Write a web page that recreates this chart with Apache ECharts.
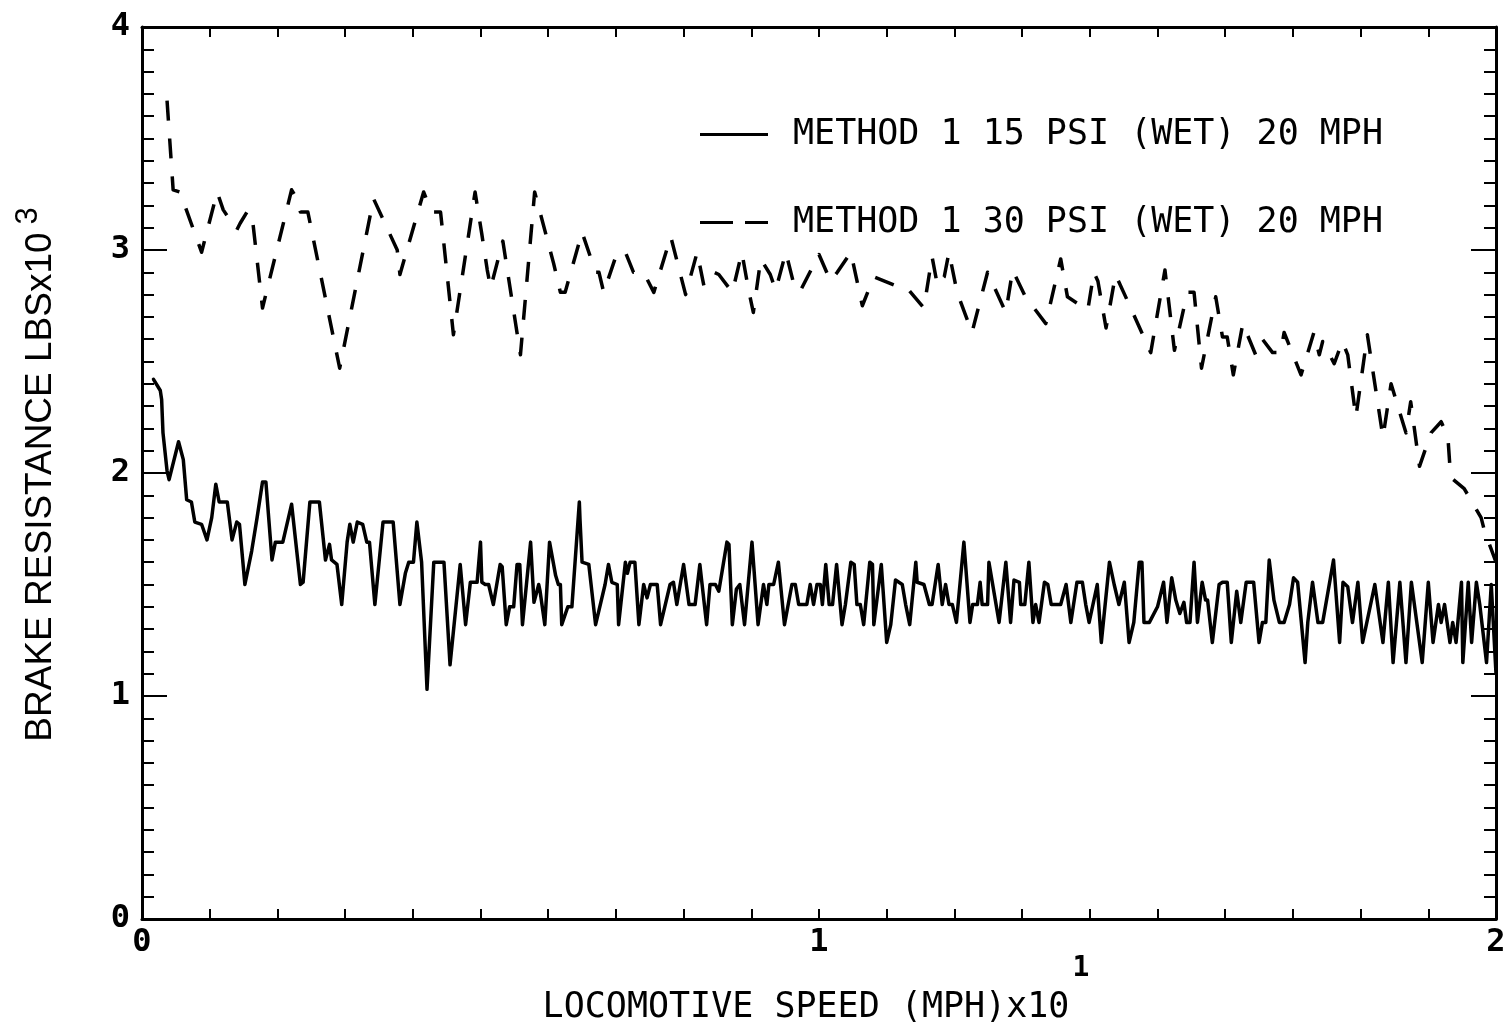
<!DOCTYPE html>
<html><head><meta charset="utf-8">
<script src="https://cdn.jsdelivr.net/npm/echarts@6/dist/echarts.min.js"></script>
<style>html,body{margin:0;padding:0;background:#fff}#c{width:1509px;height:1027px}</style>
</head><body><div id="c"></div>
<script>
// ---- DATA ----
const SERIES_NAMES = ['METHOD 1 15 PSI (WET) 20 MPH', 'METHOD 1 30 PSI (WET) 20 MPH'];
const X_TITLE = 'LOCOMOTIVE SPEED (MPH)x10';
const X_TITLE_EXP = '1';
const Y_TITLE = 'BRAKE RESISTANCE LBSx10';
const Y_TITLE_EXP = '3';

// 15 PSI (solid)
const S1_X = [0.017,0.027,0.029,0.031,0.037,0.040,0.054,0.061,0.066,0.073,0.078,0.088,0.096,0.103,0.109,0.114,0.126,0.133,0.140,0.144,0.152,0.162,0.170,0.178,0.183,0.192,0.197,0.208,0.221,0.234,0.238,0.248,0.262,0.271,0.277,0.280,0.288,0.295,0.303,0.307,0.312,0.318,0.326,0.332,0.336,0.344,0.356,0.371,0.381,0.389,0.394,0.401,0.406,0.413,0.421,0.431,0.446,0.455,0.470,0.478,0.485,0.495,0.500,
0.502,0.507,0.512,0.519,0.529,0.532,0.538,0.543,0.549,0.554,0.558,0.562,0.574,0.579,0.586,0.588,0.595,0.602,0.611,0.615,0.618,0.620,0.629,0.635,0.646,0.647,0.650,0.660,0.670,0.684,0.689,0.694,0.702,0.704,0.714,0.717,0.721,0.728,0.734,0.741,0.746,0.751,0.761,0.766,0.780,0.785,0.790,0.800,0.808,0.817,0.824,0.834,0.839,0.847,0.852,0.864,0.867,0.872,0.878,0.883,0.890,0.901,0.910,0.918,0.923,0.926,0.933,0.940,0.949,0.960,0.965,0.970,0.982,0.987,0.992,0.997,1.002,
1.005,1.010,1.015,1.020,1.026,1.034,1.039,1.047,1.052,1.056,1.061,1.066,1.075,1.079,1.081,1.092,1.100,1.106,1.113,1.118,1.123,1.128,1.134,1.143,1.145,1.155,1.163,1.167,1.176,1.182,1.187,1.192,1.197,1.203,1.214,1.223,1.227,1.234,1.238,1.241,1.249,1.251,1.266,1.276,1.283,1.288,1.296,1.298,1.304,1.310,1.316,1.320,1.325,1.333,1.338,1.343,1.357,1.365,1.372,1.381,1.389,1.394,1.399,1.411,1.417,1.429,1.436,1.443,1.451,1.458,1.465,1.473,1.477,1.480,1.488,
1.500,1.509,1.514,1.521,1.527,1.533,1.539,1.543,1.548,1.554,1.559,1.566,1.571,1.574,1.581,1.591,1.596,1.603,1.609,1.617,1.623,1.631,1.642,1.650,1.655,1.660,1.665,1.672,1.680,1.687,1.695,1.701,1.707,1.718,1.722,1.729,1.737,1.744,1.760,1.769,1.774,1.781,1.788,1.796,1.803,1.821,1.833,1.841,1.848,1.858,1.867,1.875,1.891,1.900,1.907,1.915,1.919,1.924,1.932,1.936,1.941,1.949,1.951,1.959,1.964,1.971,1.976,1.986,1.993,2.000];
const S1_Y = [2.42,2.37,2.33,2.18,2.01,1.97,2.14,2.06,1.88,1.87,1.78,1.77,1.70,1.80,1.95,1.87,1.87,1.70,1.78,1.77,1.50,1.65,1.80,1.96,1.96,1.61,1.69,1.69,1.86,1.50,1.51,1.87,1.87,1.61,1.68,1.61,1.59,1.41,1.69,1.77,1.69,1.78,1.77,1.69,1.69,1.41,1.78,1.78,1.41,1.55,1.60,1.60,1.78,1.60,1.03,1.60,1.60,1.14,1.59,1.32,1.51,1.51,1.69,
1.51,1.50,1.50,1.41,1.59,1.58,1.32,1.40,1.40,1.59,1.59,1.32,1.69,1.42,1.50,1.47,1.32,1.69,1.54,1.50,1.50,1.32,1.40,1.40,1.87,1.79,1.60,1.59,1.32,1.50,1.59,1.51,1.50,1.32,1.60,1.55,1.60,1.60,1.32,1.50,1.44,1.50,1.50,1.32,1.50,1.51,1.41,1.59,1.41,1.41,1.59,1.32,1.50,1.50,1.47,1.69,1.68,1.32,1.48,1.50,1.32,1.69,1.32,1.50,1.41,1.50,1.50,1.60,1.32,1.50,1.50,1.41,1.41,1.50,1.41,1.50,1.50,
1.41,1.59,1.41,1.41,1.59,1.32,1.41,1.60,1.59,1.41,1.41,1.32,1.60,1.59,1.32,1.59,1.24,1.32,1.52,1.51,1.50,1.41,1.32,1.60,1.51,1.50,1.41,1.41,1.59,1.41,1.50,1.41,1.41,1.33,1.69,1.33,1.41,1.41,1.51,1.41,1.41,1.60,1.33,1.60,1.33,1.52,1.51,1.41,1.41,1.60,1.33,1.41,1.33,1.51,1.50,1.41,1.41,1.50,1.33,1.51,1.51,1.41,1.33,1.50,1.24,1.60,1.50,1.41,1.51,1.24,1.33,1.60,1.60,1.33,1.33,
1.40,1.51,1.33,1.53,1.43,1.37,1.42,1.33,1.33,1.60,1.33,1.51,1.43,1.43,1.24,1.50,1.51,1.51,1.24,1.47,1.33,1.51,1.51,1.24,1.33,1.33,1.61,1.43,1.33,1.33,1.41,1.53,1.51,1.15,1.33,1.51,1.33,1.33,1.61,1.24,1.51,1.49,1.33,1.51,1.24,1.50,1.24,1.51,1.15,1.51,1.15,1.51,1.15,1.51,1.24,1.41,1.33,1.41,1.24,1.33,1.24,1.51,1.15,1.51,1.24,1.51,1.41,1.15,1.50,1.10];

// 30 PSI (dashed)
const S2_X = [0.037,0.046,0.056,0.088,0.111,0.120,0.140,0.145,0.155,0.162,0.178,0.221,0.227,0.234,0.245,0.292,0.342,0.377,0.381,0.416,0.428,0.441,0.460,0.492,0.502,0.510,0.515,0.533,0.559,0.580,0.608,0.618,0.625,0.650,0.670,0.675,
0.682,0.702,0.714,0.726,0.741,0.756,0.781,0.803,0.820,0.830,0.845,0.852,0.872,0.886,0.896,0.903,0.914,0.928,0.936,0.951,0.965,0.973,1.000,1.017,1.027,1.047,1.064,1.081,1.121,1.130,1.155,1.167,1.175,1.185,1.192,1.204,1.226,1.249,1.276,1.286,1.305,1.335,1.357,1.367,
1.397,1.406,1.412,1.424,1.438,1.456,1.490,1.511,1.525,1.544,1.554,1.565,1.586,1.596,1.603,1.612,1.626,1.645,1.655,1.670,1.682,1.687,1.712,1.731,1.739,1.744,1.761,1.773,1.781,1.793,1.810,1.833,1.845,1.867,1.874,1.887,1.904,1.919,1.929,1.933,1.953,1.978,1.983,2.000];
const S2_Y = [3.67,3.27,3.26,2.99,3.26,3.18,3.09,3.12,3.17,3.17,2.74,3.27,3.24,3.17,3.17,2.47,3.23,3.00,2.89,3.26,3.17,3.17,2.62,3.26,3.07,2.91,2.83,3.04,2.53,3.26,2.94,2.81,2.81,3.08,2.90,2.90,
2.81,2.99,2.99,2.90,2.90,2.81,3.06,2.80,2.99,2.84,2.90,2.89,2.81,2.99,2.82,2.72,2.96,2.89,2.82,2.99,2.82,2.82,2.98,2.86,2.90,2.99,2.75,2.88,2.83,2.83,2.74,2.97,2.84,2.88,2.99,2.81,2.63,2.90,2.72,2.91,2.79,2.67,2.96,2.79,
2.73,2.90,2.86,2.65,2.89,2.77,2.54,2.91,2.55,2.81,2.81,2.47,2.79,2.61,2.61,2.44,2.67,2.53,2.60,2.54,2.54,2.63,2.44,2.63,2.53,2.59,2.49,2.59,2.53,2.25,2.62,2.16,2.40,2.18,2.32,2.03,2.18,2.23,2.16,1.98,1.93,1.80,1.74,1.60];

// ---- CHART ----
const chart = echarts.init(document.getElementById('c'), null, {renderer: 'canvas'});
const MONO = '"DejaVu Sans Mono", monospace';
const SANS = '"Liberation Sans", Arial, sans-serif';
const isInt = v => Math.abs(v - Math.round(v)) < 1e-6;

const xCommon = {
  type: 'value', min: 0, max: 2, interval: 0.1,
  axisLine: {show: true, onZero: false, lineStyle: {color: '#000', width: 3}},
  axisTick: {show: true, inside: true, length: 10, lineStyle: {color: '#000', width: 2}},
  splitLine: {show: false}
};
const yCommon = {
  type: 'value', min: 0, max: 4, interval: 1,
  axisLine: {show: true, onZero: false, lineStyle: {color: '#000', width: 3}},
  axisTick: {show: true, inside: true, length: 25, lineStyle: {color: '#000', width: 2}},
  minorTick: {show: true, splitNumber: 10, length: 12, lineStyle: {color: '#000', width: 2}},
  splitLine: {show: false}
};

chart.setOption({
  animation: false,
  backgroundColor: '#fff',
  grid: {left: 142, right: 13, top: 27, bottom: 108, containLabel: false},
  xAxis: [
    Object.assign({}, xCommon, {position: 'bottom',
      axisLabel: {show: true, margin: 8, color: '#000', fontFamily: MONO, fontWeight: 'bold', fontSize: 32,
        formatter: v => isInt(v) ? String(Math.round(v)) : ''}}),
    Object.assign({}, xCommon, {position: 'top', axisLabel: {show: false}})
  ],
  yAxis: [
    Object.assign({}, yCommon, {position: 'left',
      axisLabel: {show: true, margin: 12, color: '#000', fontFamily: MONO, fontWeight: 'bold', fontSize: 32,
        formatter: v => String(Math.round(v))}}),
    Object.assign({}, yCommon, {position: 'right', axisLabel: {show: false}})
  ],
  legend: {
    show: true, orient: 'vertical', left: 700, top: 117, itemWidth: 68, itemHeight: 3, itemGap: 53,
    padding: 0, symbolKeepAspect: false,
    textStyle: {color: '#000', fontFamily: MONO, fontSize: 35, padding: [0, 0, 0, 20]},
    data: [
      {name: SERIES_NAMES[0], icon: 'path://M0,0H68V3H0Z'},
      {name: SERIES_NAMES[1], icon: 'path://M0,0H33V3H0Z M45,0H68V3H45Z'}
    ]
  },
  series: [
    {name: SERIES_NAMES[0], type: 'line', xAxisIndex: 0, yAxisIndex: 0, symbol: 'none', showSymbol: false,
     data: S1_X.map((x, i) => [x, S1_Y[i]]),
     lineStyle: {color: '#000', width: 3.5, type: 'solid', join: 'round', cap: 'round'},
     itemStyle: {color: '#000'}},
    {name: SERIES_NAMES[1], type: 'line', xAxisIndex: 0, yAxisIndex: 0, symbol: 'none', showSymbol: false,
     data: S2_X.map((x, i) => [x, S2_Y[i]]),
     lineStyle: {color: '#000', width: 3.5, type: [20, 18], join: 'round', cap: 'butt'},
     itemStyle: {color: '#000'}}
  ],
  graphic: [
    {type: 'text', x: 41, y: 487, rotation: Math.PI / 2,
     style: {text: Y_TITLE, font: '37px ' + SANS, fill: '#000', textAlign: 'center', textVerticalAlign: 'middle'}},
    {type: 'text', x: 28, y: 216, rotation: Math.PI / 2,
     style: {text: Y_TITLE_EXP, font: '31px ' + SANS, fill: '#000', textAlign: 'center', textVerticalAlign: 'middle'}},
    {type: 'text', x: 806, y: 1008,
     style: {text: X_TITLE, font: '35px ' + MONO, fill: '#000', textAlign: 'center', textVerticalAlign: 'middle'}},
    {type: 'text', x: 1081, y: 969,
     style: {text: X_TITLE_EXP, font: 'bold 28px ' + MONO, fill: '#000', textAlign: 'center', textVerticalAlign: 'middle'}}
  ]
});
</script></body></html>
